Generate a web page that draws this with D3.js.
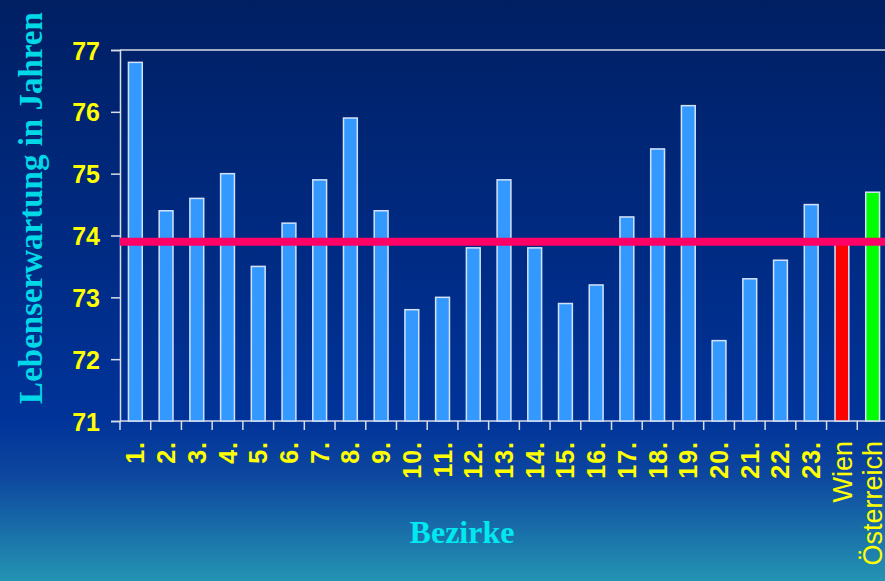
<!DOCTYPE html>
<html>
<head>
<meta charset="utf-8">
<script src="https://cdn.jsdelivr.net/npm/d3@7"></script>
<style>
  html, body { margin: 0; padding: 0; overflow: hidden; }
</style>
</head>
<body>
<div id="chart"></div>
<script>
// data
var bezirke = ["1.", "2.", "3.", "4.", "5.", "6.", "7.", "8.", "9.", "10.", "11.", "12.",
  "13.", "14.", "15.", "16.", "17.", "18.", "19.", "20.", "21.", "22.", "23.", "Wien", "Österreich"];
var lebenserwartung = [76.8, 74.4, 74.6, 75.0, 73.5, 74.2, 74.9, 75.9, 74.4, 72.8, 73.0, 73.8,
  74.9, 73.8, 72.9, 73.2, 74.3, 75.4, 76.1, 72.3, 73.3, 73.6, 74.5, 73.9, 74.7];
var wienSchnitt = 73.9;
var yTicks = [71, 72, 73, 74, 75, 76, 77];

var width = 885, height = 581;
var margin = {top: 50, left: 120, bottom: 421, right: 888};

var svg = d3.select("#chart")
  .append("svg")
    .attr("width", width)
    .attr("height", height);

// background gradient
var defs = svg.append("defs");
var grad = defs.append("linearGradient")
    .attr("id", "bg")
    .attr("x1", 0).attr("y1", 0).attr("x2", 0).attr("y2", 1);
grad.append("stop").attr("offset", "0%").attr("stop-color", "#001f63");
grad.append("stop").attr("offset", "72%").attr("stop-color", "#003399");
grad.append("stop").attr("offset", "82%").attr("stop-color", "#0d479f");
grad.append("stop").attr("offset", "100%").attr("stop-color", "#2494b2");

svg.append("rect")
    .attr("width", width)
    .attr("height", height)
    .attr("fill", "url(#bg)");

// scales
var x = d3.scaleBand()
  .domain(bezirke)
  .range([margin.left, margin.right])
  .paddingInner(0.55)
  .paddingOuter(0.275);

var y = d3.scaleLinear()
  .domain([71, 77])
  .range([margin.bottom, margin.top]);

var axisColor = "#d8dde8";

// frame: top line
svg.append("line")
    .attr("x1", margin.left).attr("x2", width)
    .attr("y1", y(77)).attr("y2", y(77))
    .attr("stroke", axisColor)
    .attr("stroke-width", 1.5);

// Y axis
var yAxis = svg.append("g")
    .attr("transform", "translate(" + margin.left + ",0)")
    .call(d3.axisLeft(y).tickValues(yTicks).tickSize(9).tickPadding(11).tickFormat(d3.format("d")));
yAxis.select(".domain").attr("stroke", axisColor).attr("stroke-width", 1.5);
yAxis.selectAll(".tick line").attr("stroke", axisColor).attr("stroke-width", 1.5);
yAxis.selectAll("text")
    .attr("fill", "#ffff00")
    .style("font-family", "Arial, 'Liberation Sans', sans-serif")
    .style("font-weight", "bold")
    .style("font-size", "25px")
    .attr("dy", "0.36em");

// X axis line
svg.append("line")
    .attr("x1", margin.left).attr("x2", width)
    .attr("y1", y(71)).attr("y2", y(71))
    .attr("stroke", axisColor)
    .attr("stroke-width", 1.5);

// X tick marks at band boundaries
svg.selectAll("xtick")
  .data(d3.range(bezirke.length + 1))
  .enter()
  .append("line")
    .attr("x1", function(i) { return margin.left + i * x.step(); })
    .attr("x2", function(i) { return margin.left + i * x.step(); })
    .attr("y1", y(71))
    .attr("y2", y(71) + 9)
    .attr("stroke", axisColor)
    .attr("stroke-width", 1.5);

// Bars
svg.selectAll("bar")
  .data(bezirke)
  .enter()
  .append("rect")
    .attr("x", function(d) { return x(d); })
    .attr("y", function(d, i) { return y(lebenserwartung[i]); })
    .attr("width", x.bandwidth())
    .attr("height", function(d, i) { return y(71) - y(lebenserwartung[i]); })
    .attr("fill", function(d) {
      if (d == "Wien") return "#ff0000";
      if (d == "Österreich") return "#00ff00";
      return "#3399ff";
    })
    .attr("stroke", "#d4e2f8")
    .attr("stroke-width", 1.5);

// Vienna average line
svg.append("line")
    .attr("x1", margin.left).attr("x2", width)
    .attr("y1", y(wienSchnitt)).attr("y2", y(wienSchnitt))
    .attr("stroke", "#ff0066")
    .attr("stroke-width", 8);

// X labels (rotated)
svg.selectAll("xlabel")
  .data(bezirke)
  .enter()
  .append("text")
    .attr("transform", function(d) {
      return "translate(" + (x(d) + x.bandwidth() / 2) + "," + 441 + ")rotate(-90)";
    })
    .attr("dy", "0.36em")
    .attr("text-anchor", "end")
    .attr("fill", "#ffff00")
    .style("font-family", "Arial, 'Liberation Sans', sans-serif")
    .style("font-weight", function(d, i) { return i < 23 ? "bold" : "normal"; })
    .style("font-size", function(d, i) { return i < 23 ? "25px" : "27px"; })
    .style("letter-spacing", function(d, i) { return i < 23 ? "1px" : "0px"; })
    .text(function(d) { return d; });

// Axis titles
svg.append("text")
    .attr("x", 462)
    .attr("y", 543)
    .attr("text-anchor", "middle")
    .attr("fill", "#00e8f0")
    .style("font-family", "'Times New Roman', 'Liberation Serif', serif")
    .style("font-weight", "bold")
    .style("font-size", "32px")
    .text("Bezirke");

svg.append("text")
    .attr("transform", "translate(42,208)rotate(-90)")
    .attr("text-anchor", "middle")
    .attr("fill", "#00d8e8")
    .style("font-family", "'Times New Roman', 'Liberation Serif', serif")
    .style("font-weight", "bold")
    .style("font-size", "33px")
    .text("Lebenserwartung in Jahren");
</script>
</body>
</html>
